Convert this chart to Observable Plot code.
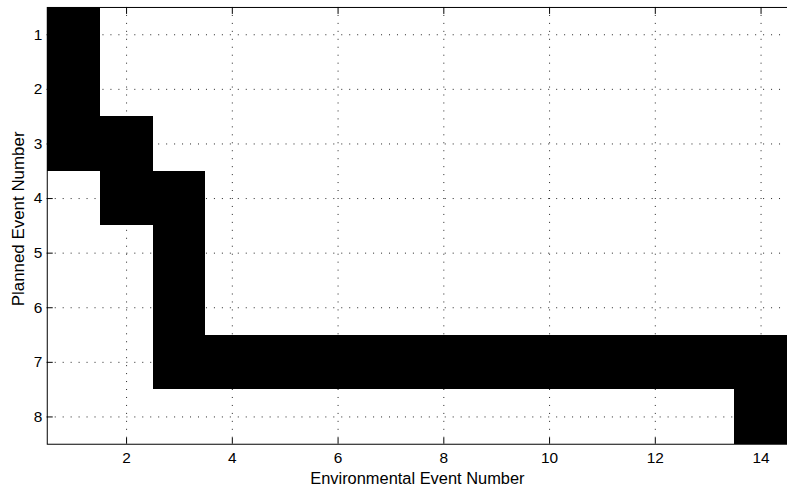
<!DOCTYPE html>
<html>
<head>
<meta charset="utf-8">
<script src="https://cdn.jsdelivr.net/npm/d3@7"></script>
<script src="https://cdn.jsdelivr.net/npm/@observablehq/plot@0.6"></script>
<style>
  html, body { margin: 0; padding: 0; background: #fff; overflow: hidden; }
  #chart svg { display: block; }
</style>
</head>
<body>
<div id="chart"></div>
<script>
// Data: for each planned event, the range of environmental events that are black
const plannedEvents = [1, 2, 3, 4, 5, 6, 7, 8];
const firstEnvEvent = [1, 1, 1, 2, 3, 3, 3, 14];
const lastEnvEvent  = [1, 1, 2, 3, 3, 3, 14, 14];
const xTicks = [2, 4, 6, 8, 10, 12, 14];
const yTicks = [1, 2, 3, 4, 5, 6, 7, 8];
const xLabel = "Environmental Event Number";
const yLabel = "Planned Event Number";

const rows = plannedEvents.map((p, i) => ({planned: p, first: firstEnvEvent[i], last: lastEnvEvent[i]}));

const font = "'Liberation Sans', Arial, Helvetica, sans-serif";

const chart = Plot.plot({
  width: 791,
  height: 503,
  marginLeft: 47,
  marginRight: 0,
  marginTop: 7,
  marginBottom: 57,
  style: {fontFamily: font, fontSize: "15.5px", color: "#000", background: "#fff"},
  x: {domain: [0.5, 14.5]},
  y: {domain: [0.5, 8.5], reverse: true},
  marks: [
    Plot.gridX(xTicks, {stroke: "#222", strokeOpacity: 1, strokeWidth: 1, strokeDasharray: "1,7"}),
    Plot.gridY(yTicks, {stroke: "#222", strokeOpacity: 1, strokeWidth: 1, strokeDasharray: "1,7"}),
    Plot.rect(rows, {
      x1: d => d.first - 0.5, x2: d => d.last + 0.5,
      y1: d => d.planned - 0.5, y2: d => d.planned + 0.5,
      fill: "#000", inset: 0, shapeRendering: "crispEdges"
    }),
    Plot.frame({stroke: "#000", strokeWidth: 1}),
    // inward ticks
    Plot.axisX(xTicks, {anchor: "bottom", tickSize: -6, tickFormat: () => "", label: null, strokeWidth: 1}),
    Plot.axisX(xTicks, {anchor: "top", tickSize: -6, tickFormat: () => "", label: null, strokeWidth: 1}),
    Plot.axisY(yTicks, {anchor: "left", tickSize: -6, tickFormat: () => "", label: null, strokeWidth: 1}),
    // tick labels
    Plot.axisX(xTicks, {anchor: "bottom", tickSize: 0, tickPadding: 8, tickFormat: "d", fontSize: 15.5, label: null}),
    Plot.axisY(yTicks, {anchor: "left", tickSize: 0, tickPadding: 5, tickFormat: "d", fontSize: 15.5, label: null}),
    // axis titles
    Plot.text([xLabel], {frameAnchor: "bottom", lineAnchor: "middle", textAnchor: "middle", text: d => d,
      dy: 35, fontSize: 16.5, fill: "#000"}),
    Plot.text([yLabel], {frameAnchor: "left", lineAnchor: "middle", textAnchor: "middle", text: d => d,
      rotate: -90, dx: -29, dy: -7, fontSize: 17, fill: "#000"})
  ]
});
document.getElementById("chart").appendChild(chart);
</script>
</body>
</html>
